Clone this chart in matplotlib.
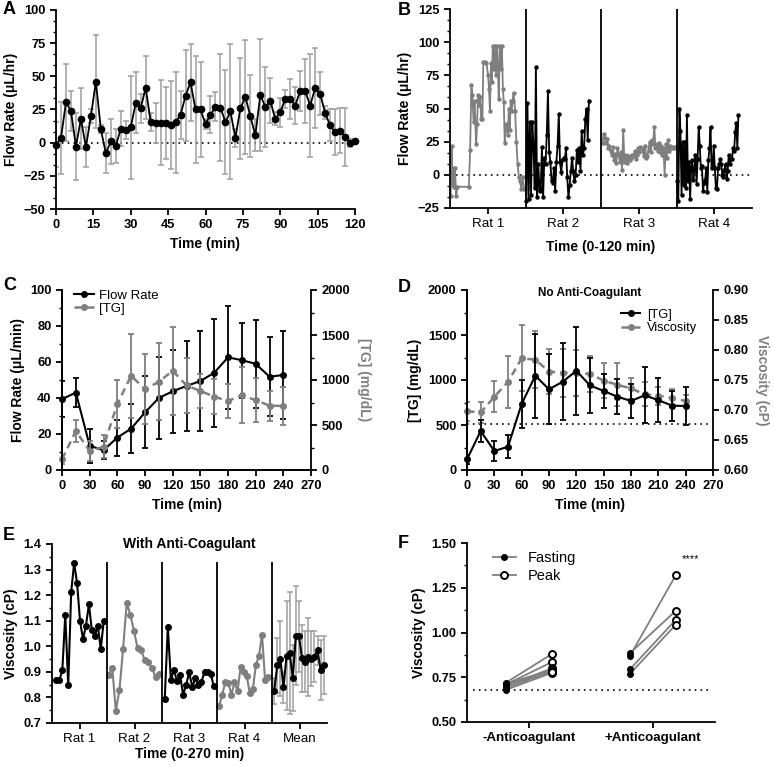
import numpy as np
import matplotlib
matplotlib.use('Agg')
import matplotlib.pyplot as plt
from matplotlib.ticker import MultipleLocator, AutoMinorLocator

plt.rcParams['font.family'] = ['Liberation Sans', 'DejaVu Sans']
plt.rcParams['font.size'] = 9
plt.rcParams['axes.linewidth'] = 1.3
plt.rcParams['xtick.major.width'] = 1.3
plt.rcParams['ytick.major.width'] = 1.3
plt.rcParams['xtick.minor.width'] = 1.0
plt.rcParams['ytick.minor.width'] = 1.0
plt.rcParams['xtick.major.size'] = 4
plt.rcParams['ytick.major.size'] = 4
plt.rcParams['xtick.minor.size'] = 2.5
plt.rcParams['ytick.minor.size'] = 2.5

GRAY = '#7f7f7f'
LIGHT = '#9e9e9e'
TICK_FS = 9.3

# ---- Panel A: mean flow rate over 120 min ----
a_time = list(range(0, 121, 2))
a_flow = [-1.5, 3.5, 30.5, 24, -3, 18, -3.5, 20, 46, 10, -8, 1, -2.5, 10.5, 9.5,
          11.5, 30, 26, 41.5, 15.5, 15, 15, 15, 13.5, 15.5, 21, 35.5, 45.5, 25, 25,
          14, 21, 27, 26.5, 15.5, 23.5, 3.5, 26, 34.5, 20, 5.5, 36, 27, 31.5, 18,
          23, 33, 33, 28, 39, 39, 28, 41, 37, 22.5, 13, 8, 9, 4.5, -0.5, 1]
a_sd = [17, 27, 29, 15, 25, 23, 15, 5, 35, 3, 15, 17, 13, 13, 7,
        39, 23, 11, 24, 7, 15, 32, 27, 33, 38, 18, 34, 29, 40, 36,
        4, 14, 11, 40, 39, 51, 7, 38, 43, 31, 12, 42, 30, 17, 5,
        11, 7, 15, 14, 15, 24, 39, 30, 16, 5, 12, 17, 17, 22, 3, 2]

# ---- Panel B: individual rats, flow rate ----
rat1_time = [1, 2.6, 4, 5.2, 6.5, 7.8, 10, 11.5, 30, 32, 34, 35.5, 37.5, 39, 41.5,
             43, 44.5, 46.5, 48, 49.5, 51.5, 53, 56, 58, 60.5, 62, 63.5, 65, 66.5,
             68, 69.5, 71, 73, 74.5, 76, 77.5, 79, 80.5, 82.5, 84, 85.5, 87, 89,
             90.5, 92, 93.5, 95, 96.5, 98, 99.5, 101, 103.5, 105.5, 107.5, 109.5,
             111.5, 113.5, 115.5, 118]
rat1_flow = [-16, 22, -8, 5, -9, 5, -16, -9, -9, 19, 68, 60, 40, 56, 23,
             38, 60, 53, 59, 42, 42, 85, 85, 84, 75, 65, 48, 84, 70,
             97, 80, 97, 75, 97, 82, 57, 97, 80, 97, 65, 55, 24, 38,
             35, 30, 50, 34, 56, 48, 56, 62, 48, 25, 8, -2,
             -5, -11, -2, -11]
rat2_flow = [-20, 54, -18, 40, -15, 40, 22, -10, 81, -17, 8, -12, -10, 21, -17, 13,
             8, 30, 63, 17, 10, -5, -6, 5, -12, 10, 22, 46, 10, 2, 11, 13, 12, 20,
             -2, -17, -8, 3, 13, 3, -5, 0, 19, 10, 20, 3, 33, 15, 20, 42, 50, 26, 56]
rat3_flow = [24, 31, 28, 24, 27, 20, 22, 18, 15, 21, 11, 16, 9, 20, 15, 10, 17, 4,
             34, 10, 15, 9, 12, 14, 11, 13, 15, 14, 18, 12, 15, 20, 17, 21, 20, 18,
             14, 22, 13, 14, 19, 25, 17, 26, 23, 36, 20, 23, 18, 24, 17, 22, 15, 20,
             0, 23, 13, 26, 18, 22, 20, 21, 20, 21]
rat4_flow = [-5, -20, 50, 33, -15, 25, -8, 25, -10, 45, -5, 10, -18, 6, 11, -4, 4,
             15, -7, 12, 36, 22, 5, 7, -12, -6, -4, 5, -13, 11, 20, 36, 5, 7, 22, 5,
             -10, -11, 5, 8, 12, 8, 0, -2, 4, 8, -3, 3, 15, 8, 12, 12, 20, 18, 32,
             39, 20, 45]
rat_labels = ['Rat 1', 'Rat 2', 'Rat 3', 'Rat 4']

# ---- Panels C / D: 0-240 min time course ----
cd_time = list(range(0, 241, 15))
c_flow = [39.4, 43, 13.5, 11, 18, 23, 32, 40, 43.7, 46.7, 49.4, 54, 62.6, 61, 59, 51.8, 52.8]
c_flow_sd = [10, 8, 9.5, 5, 10, 13.5, 20, 23, 23, 25, 28, 30, 28.5, 20.8, 24.4, 22, 24.4]
tg = [118, 433, 211, 259, 735, 1048, 896, 981, 1102, 940, 878, 815, 767, 830, 776, 715, 711]
tg_sd = [50, 125, 110, 130, 265, 465, 390, 430, 490, 310, 185, 195, 185, 310, 245, 165, 210]
visc = [0.698, 0.696, 0.722, 0.747, 0.786, 0.784, 0.764, 0.762, 0.762, 0.760, 0.749,
        0.742, 0.736, 0.726, 0.724, 0.720, 0.715]
visc_sd = [0.016, 0.017, 0.026, 0.043, 0.055, 0.047, 0.038, 0.04, 0.038, 0.03, 0.029,
           0.036, 0.017, 0.02, 0.015, 0.015, 0.01]
visc_baseline = 0.677

# ---- Panel E: viscosity with anti-coagulant ----
e_rat1 = [0.867, 0.867, 0.906, 1.122, 0.847, 1.212, 1.326, 1.246, 1.098, 1.028, 1.081,
          1.164, 1.062, 1.039, 1.081, 0.990, 1.098]
e_rat2 = [0.889, 0.915, 0.748, 0.830, 0.991, 1.169, 1.124, 1.061, 0.993, 0.984, 0.945,
          0.937, 0.915, 0.878, 0.892]
e_rat3 = [0.794, 1.075, 0.869, 0.908, 0.863, 0.889, 0.810, 0.850, 0.898, 0.841, 0.875,
          0.848, 0.861, 0.900, 0.900, 0.893, 0.845]
e_rat4 = [0.767, 0.811, 0.859, 0.857, 0.811, 0.859, 0.825, 0.918, 0.900, 0.882, 0.818,
          0.832, 0.928, 0.961, 1.045, 0.868, 0.878]
e_mean = [0.826, 0.925, 0.951, 0.839, 0.963, 0.974, 0.876, 1.041, 1.039, 0.953, 0.940,
          0.957, 0.951, 0.960, 0.984, 0.908, 0.927]
e_sd = [0.05, 0.107, 0.147, 0.06, 0.213, 0.237, 0.13, 0.193, 0.139, 0.132, 0.12,
        0.153, 0.107, 0.1, 0.057, 0.118, 0.112]
e_labels = ['Rat 1', 'Rat 2', 'Rat 3', 'Rat 4', 'Mean']

# ---- Panel F: fasting vs peak viscosity ----
f_groups = ['-Anticoagulant', '+Anticoagulant']
f_noac_fast = [0.72, 0.71, 0.70, 0.715, 0.69, 0.68, 0.705]
f_noac_peak = [0.88, 0.835, 0.80, 0.79, 0.785, 0.775, 0.78]
f_ac_fast = [0.87, 0.885, 0.795, 0.77]
f_ac_peak = [1.322, 1.122, 1.072, 1.044]


def px_axes(fig, left, top, right, bottom):
    # axes rect from pixel edges of the 774x767 reference
    W, H = 774.0, 767.0
    return fig.add_axes([left / W, 1 - bottom / H, (right - left) / W, (bottom - top) / H])


def style(ax, right=False):
    ax.spines['top'].set_visible(False)
    if not right:
        ax.spines['right'].set_visible(False)
    ax.tick_params(which='both', direction='out', labelsize=TICK_FS)
    for lab in ax.get_yticklabels() + ax.get_xticklabels():
        lab.set_fontweight('bold')


def plain_xlabels(ax, size=9.6):
    for lab in ax.get_xticklabels():
        lab.set_fontweight('normal')
        lab.set_fontsize(size)


fig = plt.figure(figsize=(7.74, 7.67), dpi=100)
lab_kw = dict(fontsize=10, fontweight='bold')

# Panel A ########
ax = px_axes(fig, 56, 10, 355, 209)
ax.axhline(0, color='black', ls=(0, (1, 2.5)), lw=1.2)
ax.errorbar(a_time, a_flow, yerr=a_sd, fmt='none', ecolor=LIGHT, elinewidth=1.1,
            capsize=2, capthick=1.1)
ax.plot(a_time, a_flow, '-o', color='black', lw=1.3, ms=4.5, clip_on=False, zorder=3)
ax.set_xlim(0, 120)
ax.set_ylim(-50, 100)
ax.xaxis.set_major_locator(MultipleLocator(15))
ax.yaxis.set_major_locator(MultipleLocator(25))
ax.yaxis.set_minor_locator(AutoMinorLocator(3))
ax.set_xlabel('Time (min)', **lab_kw)
ax.set_ylabel('Flow Rate (μL/hr)', **lab_kw)
style(ax)

# Panel B ########
ax = px_axes(fig, 450, 9, 752, 208)
ax.axhline(0, color='black', ls=(0, (1, 2.5)), lw=1.2)
rat_x = [np.array(rat1_time) / 120.0,
         1 + np.linspace(0.01, 0.84, len(rat2_flow)),
         2 + np.linspace(0.02, 0.98, len(rat3_flow)),
         3 + np.linspace(0.01, 0.82, len(rat4_flow))]
rat_y = [rat1_flow, rat2_flow, rat3_flow, rat4_flow]
for i, (xs, ys) in enumerate(zip(rat_x, rat_y)):
    col = GRAY if i % 2 == 0 else 'black'
    ax.plot(xs, ys, '-o', color=col, lw=1.3, ms=2.2, clip_on=False)
for sep in (1, 2, 3):
    ax.axvline(sep, color='black', lw=1.3)
ax.set_xlim(0, 4)
ax.set_ylim(-25, 125)
ax.set_xticks([0.5, 1.5, 2.5, 3.5])
ax.set_xticklabels(rat_labels)
ax.yaxis.set_major_locator(MultipleLocator(25))
ax.yaxis.set_minor_locator(AutoMinorLocator(3))
ax.set_xlabel('Time (0-120 min)', labelpad=7, **lab_kw)
ax.set_ylabel('Flow Rate (μL/hr)', **lab_kw)
style(ax)
plain_xlabels(ax)

# Panel C ########
ax = px_axes(fig, 62, 290, 311, 470)
ax2 = ax.twinx()
ax.errorbar(cd_time, c_flow, yerr=c_flow_sd, fmt='none', ecolor='black', elinewidth=1.3,
            capsize=2.5, capthick=1.3, zorder=3)
h1, = ax.plot(cd_time, c_flow, '-o', color='black', lw=1.5, ms=4, zorder=4, clip_on=False)
ax2.errorbar(cd_time, tg, yerr=tg_sd, fmt='none', ecolor=GRAY, elinewidth=1.3,
             capsize=2.5, capthick=1.3)
h2, = ax2.plot(cd_time, tg, '--o', color=GRAY, lw=1.8, ms=4, dashes=(3, 2), clip_on=False)
ax.set_xlim(0, 270)
ax.set_ylim(0, 100)
ax2.set_ylim(0, 2000)
ax.xaxis.set_major_locator(MultipleLocator(30))
ax.yaxis.set_major_locator(MultipleLocator(20))
ax.yaxis.set_minor_locator(AutoMinorLocator(2))
ax2.yaxis.set_major_locator(MultipleLocator(500))
ax2.yaxis.set_minor_locator(AutoMinorLocator(2))
ax.set_xlabel('Time (min)', **lab_kw)
ax.set_ylabel('Flow Rate (μL/min)', **lab_kw)
ax2.set_ylabel('[TG] (mg/dL)', rotation=270, labelpad=15, color=GRAY, **lab_kw)
style(ax)
style(ax2, right=True)
ax.legend([h1, h2], ['Flow Rate', '[TG]'], loc='upper left', bbox_to_anchor=(0.0, 1.07),
          frameon=False, fontsize=9.5, handlelength=1.5, handletextpad=0.4, labelspacing=0.1)

# Panel D ########
ax = px_axes(fig, 467, 290, 713, 470)
ax2 = ax.twinx()
ax2.axhline(visc_baseline, color='black', ls=(0, (1, 2.5)), lw=1.2)
ax2.errorbar(cd_time, visc, yerr=visc_sd, fmt='none', ecolor=GRAY, elinewidth=1.3,
             capsize=2.5, capthick=1.3)
h2, = ax2.plot(cd_time, visc, '--o', color=GRAY, lw=1.8, ms=4, dashes=(3, 2), clip_on=False)
ax.set_zorder(ax2.get_zorder() + 1)
ax.patch.set_visible(False)
ax.errorbar(cd_time, tg, yerr=tg_sd, fmt='none', ecolor='black', elinewidth=1.3,
            capsize=2.5, capthick=1.3, zorder=3)
h1, = ax.plot(cd_time, tg, '-o', color='black', lw=1.5, ms=4, zorder=4, clip_on=False)
ax.set_xlim(0, 270)
ax.set_ylim(0, 2000)
ax2.set_ylim(0.6, 0.9)
ax.xaxis.set_major_locator(MultipleLocator(30))
ax.yaxis.set_major_locator(MultipleLocator(500))
ax.yaxis.set_minor_locator(AutoMinorLocator(2))
ax2.yaxis.set_major_locator(MultipleLocator(0.05))
ax2.yaxis.set_major_formatter('{x:.2f}')
ax.set_xlabel('Time (min)', **lab_kw)
ax.set_ylabel('[TG] (mg/dL)', **lab_kw)
ax2.set_ylabel('Viscosity (cP)', rotation=270, labelpad=15, color=GRAY, **lab_kw)
ax.text(0.5, 0.985, 'No Anti-Coagulant', transform=ax.transAxes, ha='center', va='center',
        fontsize=8.5, fontweight='bold')
style(ax)
style(ax2, right=True)
ax.legend([h1, h2], ['[TG]', 'Viscosity'], loc='upper left', bbox_to_anchor=(0.58, 0.96),
          frameon=False, fontsize=9.2, handlelength=1.5, handletextpad=0.5, labelspacing=0.1)

# Panel E ########
ax = px_axes(fig, 52, 544, 327, 723)
e_series = [e_rat1, e_rat2, e_rat3, e_rat4]
e_span = [(0.08, 0.94), (0.03, 0.95), (0.05, 0.94), (0.04, 0.93)]
for i, ys in enumerate(e_series):
    col = GRAY if i % 2 == 1 else 'black'
    xs = i + np.linspace(e_span[i][0], e_span[i][1], len(ys))
    ax.plot(xs, ys, '-o', color=col, lw=1.5, ms=4)
xs = 4 + np.linspace(0.04, 0.94, len(e_mean))
ax.errorbar(xs, e_mean, yerr=e_sd, fmt='none', ecolor=LIGHT, elinewidth=1.1,
            capsize=2, capthick=1.1)
ax.plot(xs, e_mean, '-o', color='black', lw=1.5, ms=4, zorder=3)
# separators stop below the title
ax.vlines([1, 2, 3, 4], 0.7, 1.33, color='black', lw=1.3)
ax.set_xlim(0, 5)
ax.set_ylim(0.7, 1.4)
ax.set_xticks(np.arange(5) + 0.5)
ax.set_xticklabels(e_labels)
ax.yaxis.set_major_locator(MultipleLocator(0.1))
ax.yaxis.set_minor_locator(AutoMinorLocator(2))
ax.yaxis.set_major_formatter('{x:.1f}')
ax.set_xlabel('Time (0-270 min)', labelpad=1, **lab_kw)
ax.set_ylabel('Viscosity (cP)', **lab_kw)
ax.text(0.5, 1.0, 'With Anti-Coagulant', transform=ax.transAxes, ha='center', va='center',
        fontsize=10, fontweight='bold')
style(ax)
plain_xlabels(ax)

# Panel F ########
ax = px_axes(fig, 467, 543, 715, 722)
ax.plot([0.1, 3.9], [visc_baseline, visc_baseline], color='black', ls=(0, (1, 2.5)), lw=1.2)
for k, (fast, peak) in enumerate([(f_noac_fast, f_noac_peak), (f_ac_fast, f_ac_peak)]):
    cx = 1 + 2 * k
    for a, b in zip(fast, peak):
        ax.plot([cx - 0.37, cx + 0.37], [a, b], color=GRAY, lw=1.3, zorder=2)
    ax.plot([cx - 0.37] * len(fast), fast, 'o', color='black', ms=4, zorder=3)
    ax.plot([cx + 0.37] * len(peak), peak, 'o', mfc='white', mec='black', mew=1.4, ms=5, zorder=3)
hf, = ax.plot([], [], '-o', color=GRAY, mfc='black', mec='black', ms=4, lw=1.3)
hp, = ax.plot([], [], '-o', color=GRAY, mfc='white', mec='black', mew=1.4, ms=5, lw=1.3)
ax.legend([hf, hp], ['Fasting', 'Peak'], loc='upper left', bbox_to_anchor=(0.05, 1.03),
          frameon=False, fontsize=10.5, handlelength=1.6, labelspacing=0.3)
ax.text(3.6, 1.41, '****', fontsize=8, ha='center', va='center')
ax.set_xlim(0, 4)
ax.set_ylim(0.5, 1.5)
ax.set_xticks([1, 3])
ax.set_xticklabels(f_groups)
ax.yaxis.set_major_locator(MultipleLocator(0.25))
ax.yaxis.set_minor_locator(AutoMinorLocator(2))
ax.yaxis.set_major_formatter('{x:.2f}')
ax.set_ylabel('Viscosity (cP)', **lab_kw)
style(ax)
for lab in ax.get_xticklabels():
    lab.set_fontsize(9.6)

# Panel letters
for letter, (x, y) in zip('ABCDEF', [(3, 1), (398, 2), (3, 277), (398, 279), (3, 527), (398, 535)]):
    fig.text(x / 774, 1 - y / 767, letter, fontsize=13, fontweight='bold', va='top', ha='left')

fig.savefig('out.png', dpi=100)
